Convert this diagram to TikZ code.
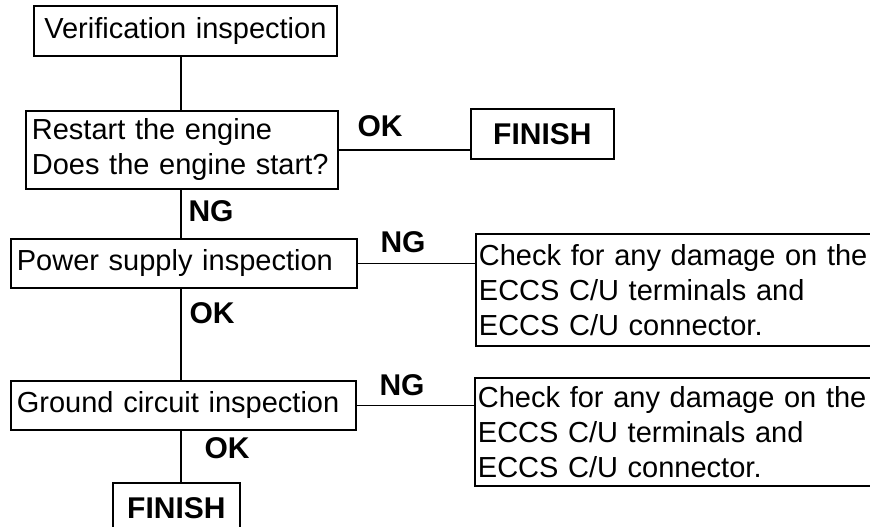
\documentclass[tikz,border=0pt]{standalone}
\usepackage{fontspec}
\setmainfont{Liberation Sans}
\usetikzlibrary{positioning}
\newcommand{\boxfont}{\fontsize{14.5}{17.5}\selectfont}
\newcommand{\tagfont}{\fontsize{15}{18}\selectfont\bfseries}

\begin{document}
\begin{tikzpicture}[x=0.5pt,y=-0.5pt,
    stepbox/.style={draw,line width=0.9pt,anchor=north west,inner xsep=3pt,inner ysep=0pt,align=left,font=\boxfont},
    endbox/.style={stepbox,align=center,font=\tagfont},
    tag/.style={font=\tagfont,inner sep=0pt},
    link/.style={line width=0.8pt}]
    \useasboundingbox (0,0) rectangle (870,526);
    \clip (0,0) rectangle (870,526);
    \coordinate (spine) at (181,0);
    % left column
    \node[stepbox,align=center,text width=145.5pt,minimum height=25pt] (verif) at (33,5) {Verification inspection};
    \node[stepbox,text width=150pt,minimum height=39pt] (restart) at (25,110) {Restart the engine\\Does the engine start?};
    \node[stepbox,text width=167pt,minimum height=24.5pt] (power) at (10,238) {Power supply inspection};
    \node[stepbox,text width=166.5pt,minimum height=24.5pt] (ground) at (10,380) {Ground circuit inspection};
    \node[endbox,text width=57.5pt,minimum height=25pt] (finishB) at (112,482) {FINISH};
    % right column
    \node[endbox,text width=65.5pt,minimum height=25pt] (finishA) at (470,108) {FINISH};
    \node[stepbox,inner xsep=1.5pt,text width=210pt,minimum height=56pt] (checkA) at (475,233) {Check for any damage on the\\ECCS C/U terminals and\\ECCS C/U connector.};
    \node[stepbox,inner xsep=1.5pt,text width=210pt,minimum height=54pt] (checkB) at (474,377) {Check for any damage on the\\ECCS C/U terminals and\\ECCS C/U connector.};
    % connectors
    \draw[link] (verif.south -| spine) -- (restart.north -| spine);
    \draw[link] (restart.south -| spine) -- (power.north -| spine);
    \draw[link] (power.south -| spine) -- (ground.north -| spine);
    \draw[link] (ground.south -| spine) -- (finishB.north -| spine);
    \draw[link] (restart.east) -- (restart.east -| finishA.west);
    \draw[link] (power.east) -- (power.east -| checkA.west);
    \draw[link] (ground.east) -- (ground.east -| checkB.west);
    % labels
    \node[tag] (okA) at (380,126) {OK};
    \node[tag] (ngA) at (211,211) {NG};
    \node[tag] (ngB) at (403,242) {NG};
    \node[tag] (okB) at (212,313) {OK};
    \node[tag] (ngC) at (402,385) {NG};
    \node[tag] (okC) at (227,448) {OK};
\end{tikzpicture}
\end{document}
